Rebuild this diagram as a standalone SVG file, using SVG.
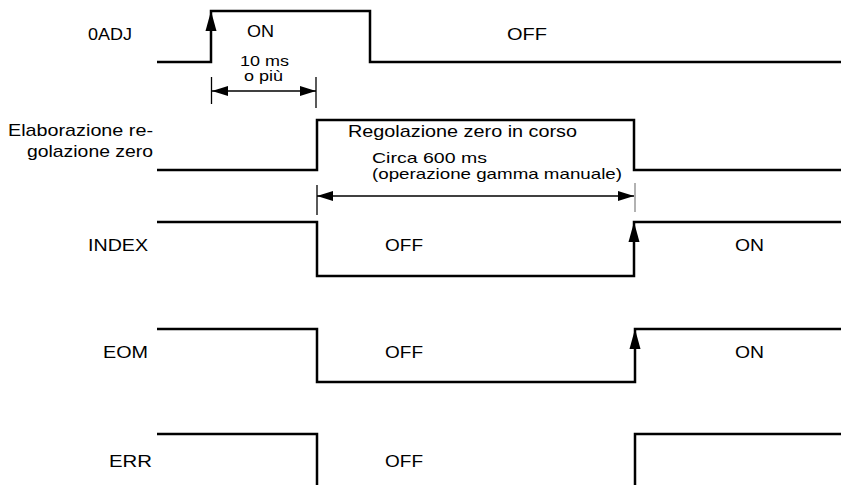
<svg xmlns="http://www.w3.org/2000/svg" width="841" height="485" viewBox="0 0 841 485">
<style>
.sig{fill:none;stroke:#000;stroke-width:2.5;stroke-linejoin:miter}
.dim{stroke:#000;stroke-width:1.3;fill:none}
.ext{stroke:#000;stroke-width:1.3}
.ext2{stroke:#999;stroke-width:1.5}
.ah{fill:#000}
text{font-family:"Liberation Sans",Arial,sans-serif;font-size:17px;fill:#000}
.sm{font-size:15px}
.xs{font-size:14px}
</style>
<defs>
<marker id="ah" viewBox="0 0 16 10" refX="16" refY="5" markerWidth="16" markerHeight="10" markerUnits="userSpaceOnUse" orient="auto-start-reverse"><path d="M0,0 L16,5 L0,10 z" fill="#000"/></marker>
</defs>
<rect width="841" height="485" fill="#fff"/>
<g id="sig-0adj">
<path class="sig" d="M157,62 H211 V11 H370 V62 H841"/>
<polygon class="ah" points="211,11 205.5,31 216.5,31"/>
<text x="88" y="40" textLength="44" lengthAdjust="spacingAndGlyphs">0ADJ</text>
<text x="247" y="37" textLength="27" lengthAdjust="spacingAndGlyphs">ON</text>
<text x="507" y="40" textLength="40" lengthAdjust="spacingAndGlyphs">OFF</text>
</g>
<g id="sig-elab">
<path class="sig" d="M157,170 H317 V120 H634 V170 H841"/>
<text x="8" y="136" textLength="145" lengthAdjust="spacingAndGlyphs">Elaborazione re-</text>
<text x="27" y="157" textLength="126" lengthAdjust="spacingAndGlyphs">golazione zero</text>
<text x="348" y="137" textLength="229" lengthAdjust="spacingAndGlyphs">Regolazione zero in corso</text>
</g>
<g id="sig-index">
<path class="sig" d="M157,222 H317 V276 H634 V222 H841"/>
<polygon class="ah" points="634,222 628.5,242 639.5,242"/>
<text x="88" y="251" textLength="60" lengthAdjust="spacingAndGlyphs">INDEX</text>
<text x="385" y="251" textLength="38" lengthAdjust="spacingAndGlyphs">OFF</text>
<text x="735" y="251" textLength="29" lengthAdjust="spacingAndGlyphs">ON</text>
</g>
<g id="sig-eom">
<path class="sig" d="M157,329 H317 V382 H635 V329 H841"/>
<polygon class="ah" points="635,329 629.5,349 640.5,349"/>
<text x="103" y="358" textLength="45" lengthAdjust="spacingAndGlyphs">EOM</text>
<text x="385" y="358" textLength="38" lengthAdjust="spacingAndGlyphs">OFF</text>
<text x="735" y="358" textLength="29" lengthAdjust="spacingAndGlyphs">ON</text>
</g>
<g id="sig-err">
<path class="sig" d="M157,434 H317 V485 M635,485 V434 H841"/>
<text x="109" y="467" textLength="43" lengthAdjust="spacingAndGlyphs">ERR</text>
<text x="385" y="467" textLength="38" lengthAdjust="spacingAndGlyphs">OFF</text>
</g>
<g id="connectors">
<line class="ext" x1="211.5" y1="77" x2="211.5" y2="104"/>
<line class="ext" x1="316" y1="77" x2="316" y2="108"/>
<line class="dim" x1="212" y1="91" x2="316" y2="91" marker-start="url(#ah)" marker-end="url(#ah)"/>
<text class="xs" x="240" y="66" textLength="49" lengthAdjust="spacingAndGlyphs">10 ms</text>
<text class="xs" x="244" y="81" textLength="39" lengthAdjust="spacingAndGlyphs">o più</text>
<line class="ext" x1="317" y1="185" x2="317" y2="215"/>
<line class="ext2" x1="635" y1="183" x2="635" y2="212"/>
<line class="dim" x1="317" y1="196" x2="634" y2="196" marker-start="url(#ah)" marker-end="url(#ah)"/>
<text class="sm" x="372" y="163" textLength="115" lengthAdjust="spacingAndGlyphs">Circa 600 ms</text>
<text class="sm" x="372" y="179" textLength="250" lengthAdjust="spacingAndGlyphs">(operazione gamma manuale)</text>
</g>
</svg>
